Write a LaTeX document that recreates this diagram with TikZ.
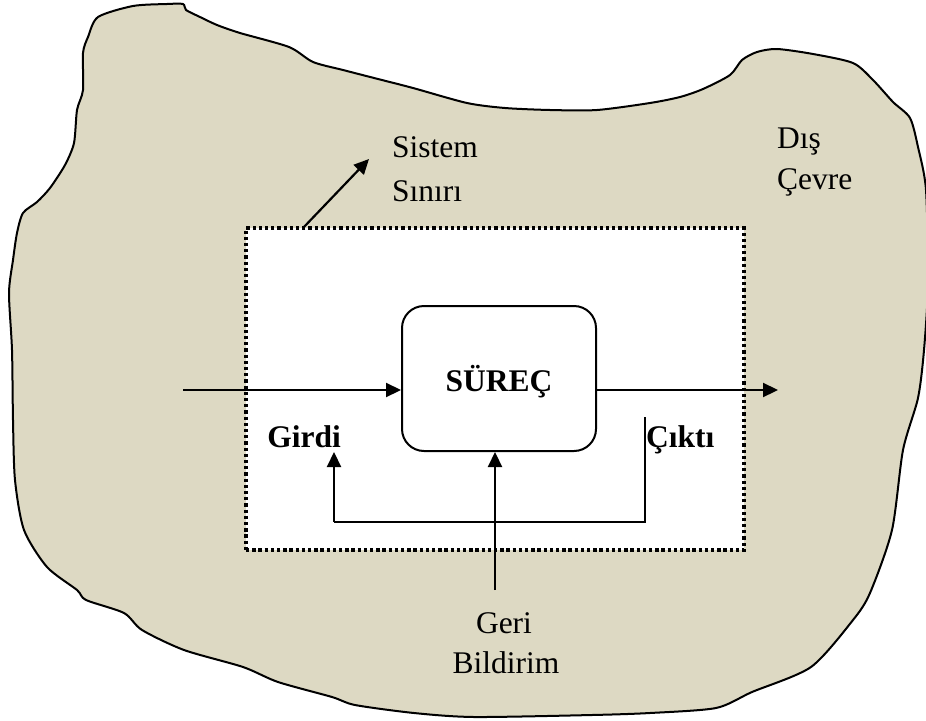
\documentclass[tikz,border=0pt]{standalone}
\usepackage{fontspec}
\setmainfont{Liberation Serif}
\usetikzlibrary{arrows.meta}
\definecolor{envfill}{RGB}{221,217,195}
\tikzset{
  lbl/.style={inner sep=0pt, font=\fontsize{31.5}{40}\selectfont},
  blbl/.style={lbl, font=\fontsize{31.5}{40}\selectfont\bfseries},
  arr/.style={line width=2.2pt, -{Triangle[length=15pt,width=14pt]}},
  ln/.style={line width=2.2pt},
  boundary/.style={draw, fill=white, line width=3.3pt, dash pattern=on 3.3pt off 2.9pt, minimum width=498pt, minimum height=322pt, inner sep=0pt},
  procbox/.style={draw, fill=white, line width=2pt, rounded corners=22pt, minimum width=194pt, minimum height=145pt, inner sep=0pt, text depth=0pt, font=\fontsize{31.5}{40}\selectfont\bfseries}
}
\begin{document}
\begin{tikzpicture}[x=1pt,y=-1pt]
\useasboundingbox (0,0) rectangle (926,720);
\begin{scope}
\clip (0,0) rectangle (926,720);
\draw[line width=2pt, fill=envfill] plot[smooth cycle, tension=0.45] coordinates {
(98,17) (133,6) (167,4) (183,4) (186,10) (200,17) (217,25) (240,33) (289,47) (313,62) (343,70) (378,79) (413,88) (467,103) (505,108) (550,110) (597,110) (650,103) (680,97) (703,89) (730,75) (742,60) (757,52) (777,49) (813,54) (853,63) (873,80) (893,102) (910,118) (918,147) (926,190) (928,283) (924,350) (918,398) (903,450) (892,530) (870,593) (853,620) (811,667) (752,692) (716,708) (650,713) (592,715) (474,717) (414,713) (355,705) (332,697) (278,682) (243,667) (184,650) (142,630) (124,613) (86,600) (77,590) (47,567) (24,530) (15,480) (13,420) (12,350) (9,293) (13,260) (17,233) (23,213) (37,202) (50,188) (65,165) (74,143) (77,110) (83,90) (83,53) (88,37)};
\end{scope}

% system boundary
\node[boundary] (bnd) at (495,389) {};
% process
\node[procbox] (proc) at (499,378.5) {SÜREÇ};

% labels
\node[lbl, anchor=base west] (sis1) at (392,157) {Sistem};
\node[lbl, anchor=base west] (sis2) at (392,201) {Sınırı};
\node[lbl, anchor=base west] (dis1) at (777,148) {Dış};
\node[lbl, anchor=base west] (dis2) at (777,189) {Çevre};
\node[blbl, anchor=base] (girdi) at (304,447) {Girdi};
\node[blbl, anchor=base west] (cikti) at (646,447) {Çıktı};
\node[lbl, anchor=base] (geri1) at (504,633) {Geri};
\node[lbl, anchor=base] (geri2) at (506,673) {Bildirim};

% coordinates
\coordinate (inS) at (183,390);
\coordinate (outE) at (778,390);
\coordinate (sbStart) at (303,228);
\coordinate (sbTip) at (369,159);
\coordinate (ctop) at (645,417);
\coordinate (loopR) at (645,522);
\coordinate (loopL) at (334,522);
\coordinate (girdiTip) at (334,452);
\coordinate (fbS) at (495,590);

% connectors
\draw[arr] (inS) -- (inS -| proc.west);
\draw[arr] (proc.east |- outE) -- (outE);
\draw[arr] (sbStart) -- (sbTip);
\draw[ln] (ctop) -- (loopR) -- (loopL);
\draw[arr] (loopL) -- (girdiTip);
\draw[arr] (fbS) -- (fbS |- proc.south);
\end{tikzpicture}
\end{document}
